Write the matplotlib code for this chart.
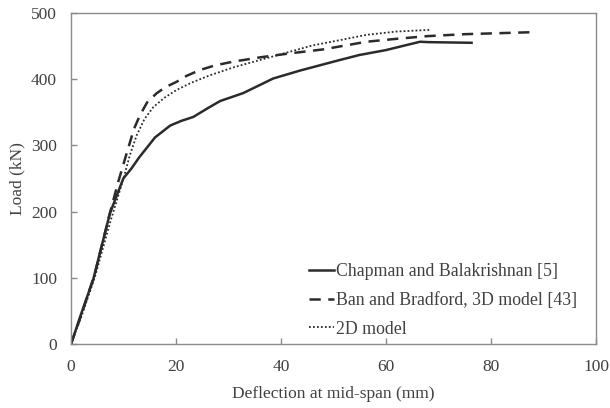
import matplotlib
matplotlib.use("Agg")
import matplotlib.pyplot as plt

plt.rcParams['font.family'] = ['Liberation Serif', 'DejaVu Serif']

# Chapman and Balakrishnan [5]
x_exp = [0, 2, 4.25, 7.4, 9.96, 11.5, 13, 16, 18.9, 21, 23.3, 26, 28.4, 32.8, 38.5, 43.6, 51.2, 54.9, 60, 66.5, 68, 76.3]
y_exp = [0, 47, 98, 197, 250, 265, 282, 312, 330, 337, 343, 356, 367, 379, 401, 413, 429, 436.5, 444, 456.6, 456, 455]

# Ban and Bradford, 3D model [43]
x_3d = [0, 2, 4.5, 7.4, 9, 10.6, 12, 13.1, 14.5, 16.3, 18, 20.1, 22, 24.6, 27.5, 30.9, 36, 41.7, 48, 56.3, 62, 67.8, 75, 87.8]
y_3d = [0, 45, 105, 197.5, 245, 288, 325, 345, 365, 378.7, 388, 396, 405, 414, 421, 426.5, 433, 439, 445, 456.6, 461, 465, 468, 471]

# 2D model
x_2d = [0, 2, 4.5, 7.5, 10, 11.2, 12.5, 14, 15.7, 17.8, 20.1, 23, 26.5, 31, 36, 41.7, 46, 51.2, 56.3, 62, 68.4]
y_2d = [0, 42, 100, 185, 250, 285, 315, 340, 358, 372, 383.7, 395, 406, 418, 429, 441.5, 451, 459, 467, 472, 474.5]

fig = plt.figure(figsize=(6.1, 4.08), dpi=100)
ax = fig.add_axes([71/610, 1 - 344/408, (596-71)/610, (344-13)/408])

lc = '#2b2b2b'
ax.plot(x_exp, y_exp, color=lc, lw=1.8, ls='-', label='Chapman and Balakrishnan [5]')
ax.plot(x_3d, y_3d, color=lc, lw=1.8, ls=(0, (4.5, 3)), label='Ban and Bradford, 3D model [43]')
ax.plot(x_2d, y_2d, color=lc, lw=1.3, ls=(0, (1, 1.2)), label='2D model')

ax.set_xlim(0, 100)
ax.set_ylim(0, 500)
ax.set_xticks([0, 20, 40, 60, 80, 100])
ax.set_yticks([0, 100, 200, 300, 400, 500])

tc = '#404040'
for s in ax.spines.values():
    s.set_color('#8a8a8a')
    s.set_linewidth(1.0)
ax.tick_params(direction='in', length=4, width=1, color='#8a8a8a', labelcolor=tc, labelsize=12.5)
ax.tick_params(axis='x', pad=11)
ax.tick_params(axis='y', pad=10)

ax.set_xlabel('Deflection at mid-span (mm)', fontsize=12.5, color=tc, labelpad=8)
ax.set_ylabel('Load (kN)', fontsize=12.5, color=tc, labelpad=4)

leg = ax.legend(loc='lower right', bbox_to_anchor=(0.977, -0.002), frameon=False, fontsize=12.8,
                handlelength=1.4, handletextpad=0.1, labelspacing=0.65, borderaxespad=0.0)
for t in leg.get_texts():
    t.set_color(tc)

fig.savefig('out.png', dpi=100)
